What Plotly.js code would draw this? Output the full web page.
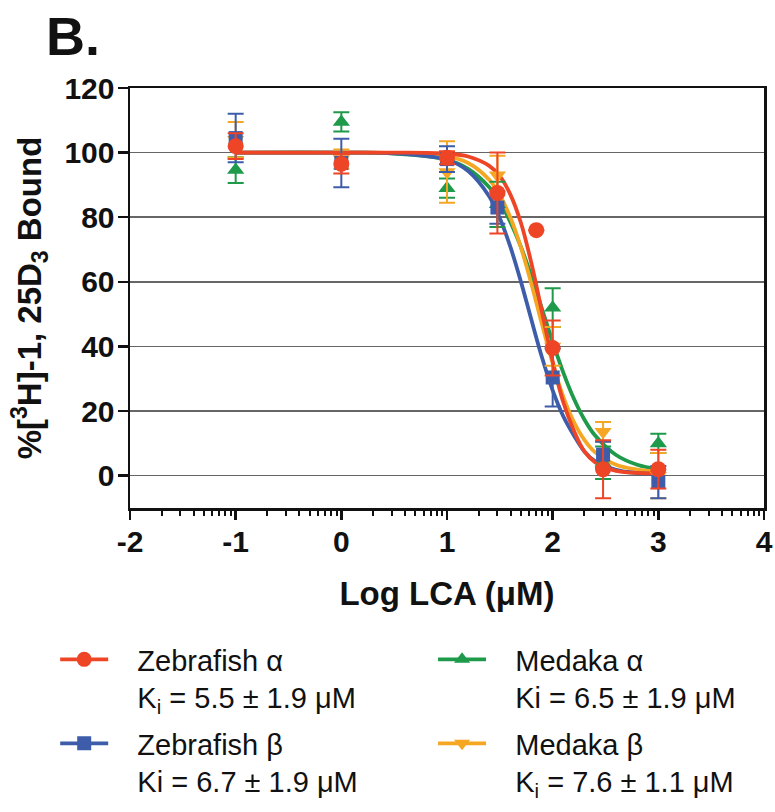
<!DOCTYPE html>
<html>
<head>
<meta charset="utf-8">
<script src="https://cdn.plot.ly/plotly-3.0.1.min.js"></script>
<style>html,body{margin:0;padding:0;background:#fff;}#chart{width:775px;height:812px;}</style>
</head>
<body>
<div id="chart"></div>
<script>
// ---- data ----
const doseX = [-1, 0, 1, 1.477, 2, 2.477, 3];
const zfAlphaX = [-1, 0, 1, 1.477, 1.845, 2, 2.477, 3];
const zfAlphaY = [102, 96.5, 98.4, 87.5, 76, 39.5, 2, 2];
const zfAlphaErr = [4, 3, 2, 12.5, 0, 8.5, 9, 6];
const zfBetaY = [104.5, 96.8, 98, 83, 30.4, 6.5, -2];
const zfBetaErr = [7.5, 7.5, 4, 5, 9, 4, 5];
const medAlphaY = [94.6, 109.5, 89, 84, 52, 4, 10];
const medAlphaErr = [4, 3, 3, 7, 6, 5, 3];
const medBetaY = [104, 98, 94, 93, 40, 13.6, 0];
const medBetaErr = [5.5, 3, 9.5, 6, 6, 3, 7];

// fitted curves
const fitX = [-1, 0, 0.5, 1, 1.2, 1.4, 1.5, 1.6, 1.7, 1.8, 1.9, 2.0, 2.1, 2.2, 2.3, 2.4, 2.6, 2.8, 3.0];
const zfAlphaFit = [100, 100, 100, 99.7, 98.8, 95.9, 92.7, 87.0, 78.2, 65.6, 50.5, 35.4, 22.8, 14.0, 7.5, 4.2, 1.5, 0.9, 0.7];
const zfBetaFit = [100, 100, 99.8, 97.8, 94.3, 86.4, 79.7, 70.8, 60.0, 48.1, 36.5, 26.4, 18.4, 12.5, 7.5, 4.5, 1.8, 0.8, 0.5];
const medAlphaFit = [100, 100, 99.7, 97.8, 95.0, 89.3, 84.7, 78.5, 70.8, 61.6, 51.5, 41.4, 32.0, 23.9, 17.4, 12.5, 6.4, 3.4, 2.1];
const medBetaFit = [100, 100, 99.9, 98.8, 96.8, 91.6, 86.8, 79.9, 70.6, 59.2, 46.7, 34.8, 24.5, 16.7, 11.1, 7.3, 3.4, 1.9, 1.3];

const PAD = '&nbsp;&nbsp;&nbsp;';
const seriesNames = [
  PAD + 'Zebrafish α<br>' + PAD + 'K<sub>i</sub> = 5.5 ± 1.9 μM',
  PAD + 'Medaka α<br>' + PAD + 'Ki = 6.5 ± 1.9 μM',
  PAD + 'Zebrafish β<br>' + PAD + 'Ki = 6.7 ± 1.9 μM',
  PAD + 'Medaka β<br>' + PAD + 'K<sub>i</sub> = 7.6 ± 1.1 μM'
];
const xTickVals = [-2, -1, 0, 1, 2, 3, 4];
const xTickText = ['-2', '-1', '0', '1', '2', '3', '4'];
const yTickVals = [0, 20, 40, 60, 80, 100, 120];

// ---- styling ----
const RED = '#EE4527', BLUE = '#3D5DAA', GREEN = '#1E9A4A', ORANGE = '#F5A623';
const FONT = 'Liberation Sans, Arial, Helvetica, sans-serif';

function curve(y, color) {
  return {x: fitX, y: y, mode: 'lines', type: 'scatter', line: {color: color, width: 3.8, shape: 'spline', smoothing: 1}, showlegend: false, hoverinfo: 'skip'};
}
function pts(x, y, err, color, symbol, size) {
  return {x: x, y: y, mode: 'markers', type: 'scatter', showlegend: false,
    marker: {color: color, symbol: symbol, size: size, line: {width: 0}},
    error_y: {type: 'data', array: err, visible: true, color: color, thickness: 2, width: 8}};
}
function legendItem(name, color, symbol, size, legend) {
  return {x: [null], y: [null], mode: 'lines+markers', type: 'scatter', name: name, legend: legend,
    line: {color: color, width: 3.8}, marker: {color: color, symbol: symbol, size: size}};
}

// minor tick positions on the log-dose axis
const minorVals = [];
for (let n = -2; n < 4; n++) for (let k = 2; k <= 9; k++) minorVals.push(n + Math.log10(k));

const data = [
  curve(medAlphaFit, GREEN), curve(medBetaFit, ORANGE), curve(zfBetaFit, BLUE), curve(zfAlphaFit, RED),
  pts(doseX, medAlphaY, medAlphaErr, GREEN, 'triangle-up', 15),
  pts(doseX, medBetaY, medBetaErr, ORANGE, 'triangle-down', 15),
  pts(doseX, zfBetaY, zfBetaErr, BLUE, 'square', 14),
  pts(zfAlphaX, zfAlphaY, zfAlphaErr, RED, 'circle', 16),
  legendItem(seriesNames[0], RED, 'circle', 15, 'legend'),
  legendItem(seriesNames[1], GREEN, 'triangle-up', 14, 'legend2'),
  legendItem(seriesNames[2], BLUE, 'square', 14, 'legend3'),
  legendItem(seriesNames[3], ORANGE, 'triangle-down', 14, 'legend4')
];

function leg(x, y) {
  return {x: x, y: y, orientation: 'v', xanchor: 'left', yanchor: 'top', valign: 'top',
    itemwidth: 48, bgcolor: 'rgba(0,0,0,0)', borderwidth: 0,
    font: {family: FONT, size: 29, color: '#111'}};
}

const layout = {
  width: 775, height: 812,
  margin: {l: 130, r: 11, t: 88, b: 304, autoexpand: false},
  paper_bgcolor: '#fff', plot_bgcolor: '#fff',
  font: {family: FONT, color: '#111'},
  xaxis: {
    range: [-2, 4], tickmode: 'array', tickvals: xTickVals, ticktext: xTickText, ticks: 'outside', ticklen: 9, tickwidth: 2.5, tickcolor: '#111',
    ticklabelstandoff: -4, automargin: false,
    showline: true, linewidth: 2.5, linecolor: '#111', mirror: true, showgrid: false, zeroline: false,
    tickfont: {family: FONT, size: 30, color: '#111', weight: 'bold'},
    minor: {tickmode: 'array', tickvals: minorVals, ticks: 'outside', ticklen: 5, tickwidth: 2, tickcolor: '#111', showgrid: false},
    title: {text: 'Log LCA (μM)', font: {family: FONT, size: 33, color: '#111', weight: 'bold'}, standoff: 26}
  },
  yaxis: {
    range: [-10, 120], tickmode: 'array', tickvals: yTickVals, ticks: 'outside', ticklen: 10, tickwidth: 2.5, tickcolor: '#111',
    ticklabelstandoff: -3, automargin: false,
    showline: true, linewidth: 2.5, linecolor: '#111', mirror: true, showgrid: true, gridcolor: '#666666', gridwidth: 1.5, zeroline: false,
    tickfont: {family: FONT, size: 30, color: '#111', weight: 'bold'},
    title: {text: '%[<sup>3</sup>H]-1, 25D<sub>3</sub> Bound', font: {family: FONT, size: 33, color: '#111', weight: 'bold'}, standoff: 13}
  },
  legend: leg(-0.118, -0.30),
  legend2: leg(0.478, -0.30),
  legend3: leg(-0.118, -0.50),
  legend4: leg(0.478, -0.50),
  annotations: [{text: '<b>B.</b>', xref: 'paper', yref: 'paper', x: -0.135, y: 1.2, xanchor: 'left', yanchor: 'top', showarrow: false,
    font: {family: FONT, size: 54, color: '#111'}}],
  showlegend: true
};

Plotly.newPlot('chart', data, layout, {displayModeBar: false, staticPlot: true});
</script>
</body>
</html>
